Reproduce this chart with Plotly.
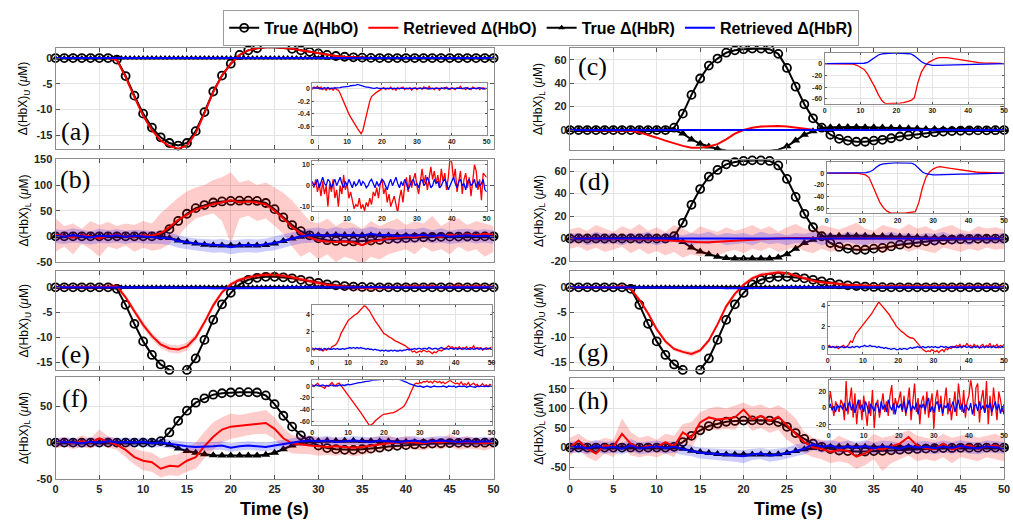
import plotly.graph_objects as go

W, H = 1013, 523
SANS = "Liberation Sans, Arial, sans-serif"
SERIF = "Liberation Serif, Times New Roman, serif"

STEP_1S = 1.0
STEP_HALF = 0.5

LEGEND_NAMES = ["True Δ(HbO)", "Retrieved Δ(HbO)", "True Δ(HbR)", "Retrieved Δ(HbR)"]
MAIN_XTICKS = [0, 5, 10, 15, 20, 25, 30, 35, 40, 45, 50]
INSET_XTICKS = [0, 10, 20, 30, 40, 50]

# ---------------- true curves ----------------
TRUE_HBO_U = [0, 0, 0, 0, 0, 0, 0, -0.3, -3.5, -7.3,
              -10.8, -13.5, -15.4, -16.5, -17.0, -16.5, -14.2, -10.5, -6.5, -3.4,
              -1.1, 0.6, 1.5, 1.9, 2.1, 2.1, 2.0, 1.8, 1.5, 1.2,
              0.9, 0.6, 0.4, 0.25, 0.15, 0.08, 0.03, 0, 0, 0,
              0, 0, 0, 0, 0, 0, 0, 0, 0, 0,
              0]
TRUE_HBR_U = [0, 0, 0, 0, 0, 0, 0, 0, 0, 0,
              0, 0, 0, 0, 0, 0, 0, 0, 0, 0,
              0, 0, 0, 0, 0, 0, 0, 0, 0, 0,
              0, 0, 0, 0, 0, 0, 0, 0, 0, 0,
              0, 0, 0, 0, 0, 0, 0, 0, 0, 0,
              0, 0, 0, 0, 0, 0, 0, 0, 0, 0,
              0, 0, 0, 0, 0, 0, 0, 0, 0, 0,
              0, 0, 0, 0, 0, 0, 0, 0, 0, 0,
              0, 0, 0, 0, 0, 0, 0, 0, 0, 0,
              0, 0, 0, 0, 0, 0, 0, 0, 0, 0,
              0]
TRUE_HBO_L = [0, 0, 0, 0, 0, 0, 0, 0, 0, 0,
              0, 0, 2, 14, 30, 44, 55, 61, 66, 68,
              69, 69.5, 69.5, 69, 65, 53, 37, 22, 10, 2,
              -4, -7.5, -9, -10, -10, -9, -8.3, -7, -5.5, -4.5,
              -3.5, -2.5, -1.8, -1.3, -0.9, -0.6, -0.4, -0.3, -0.2, -0.1,
              0]
TRUE_HBR_L = [0, 0, 0, 0, 0, 0, 0, 0, 0, 0,
              0, 0, 0, -3, -8, -11.6, -14, -16.2, -17.4, -17.7,
              -17.7, -17.7, -17.7, -17.7, -16.8, -13.9, -9, -4, -1, 1.5,
              2.3, 2.5, 2.5, 2.5, 2.4, 2.3, 2.2, 2.0, 1.8, 1.6,
              1.3, 1.0, 0.8, 0.6, 0.4, 0.3, 0.2, 0.1, 0.05, 0,
              0]

# ---------------- panel (a) ----------------
RET_HBO_A = [0, 0, 0, 0, 0, 0, 0, -0.4, -3.7, -7.6,
             -11.2, -14.0, -16.0, -17.1, -17.6, -17.0, -14.6, -10.7, -6.6, -3.4,
             -1.1, 0.6, 1.5, 1.9, 2.1, 2.1, 2.0, 1.8, 1.5, 1.2,
             0.9, 0.6, 0.4, 0.25, 0.15, 0.08, 0.03, 0, 0, 0,
             0, 0, 0, 0, 0, 0, 0, 0, 0, 0,
             0]
RET_HBR_A = [0, 0, 0, 0, 0, 0, 0, 0, 0, 0,
             0, 0, 0, 0, 0.05, 0.05, 0, 0, 0, 0,
             0, 0, 0, 0, 0, 0, 0, 0, 0, 0,
             0, 0, 0, 0, 0, 0, 0, 0, 0, 0,
             0, 0, 0, 0, 0, 0, 0, 0, 0, 0,
             0]
INSET_A_RED = [-0.02, 0.02, 0.0, 0.03, -0.01, 0.02, -0.02, 0.0, -0.03, 0.01,
               -0.02, 0.0, -0.03, 0.01, -0.02, -0.03, -0.08, -0.15, -0.22, -0.28,
               -0.34, -0.40, -0.45, -0.50, -0.55, -0.59, -0.63, -0.67, -0.71, -0.66,
               -0.55, -0.42, -0.30, -0.20, -0.13, -0.10, -0.08, -0.06, -0.04, -0.02,
               0.0, 0.01, -0.02, 0.0, -0.01, 0.02, -0.02, 0.0, -0.03, 0.01,
               -0.01, 0.0, 0.02, -0.02, 0.0, -0.01, 0.01, -0.03, 0.0, 0.01,
               -0.02, 0.0, 0.01, -0.02, 0.02, 0.0, -0.01, 0.03, -0.01, 0.0,
               -0.02, 0.01, 0.0, -0.03, 0.01, 0.0, -0.01, 0.02, 0.0, -0.02,
               0.01, 0.0, -0.02, 0.01, 0.0, 0.03, -0.01, 0.0, -0.02, 0.01,
               0.0, -0.02, 0.02, 0.0, -0.01, 0.01, -0.02, 0.0, 0.01, -0.01,
               0.0]
INSET_A_BLUE = [0.01, 0.0, 0.01, 0.0, 0.01, -0.01, 0.0, 0.01, 0.0, 0.01,
                0.0, 0.0, 0.01, 0.0, 0.01, 0.0, 0.01, 0.02, 0.02, 0.03,
                0.03, 0.03, 0.04, 0.04, 0.05, 0.05, 0.06, 0.05, 0.05, 0.04,
                0.03, 0.02, 0.02, 0.01, 0.01, 0.0, 0.0, 0.01, 0.0, 0.0,
                -0.01, 0.0, -0.01, 0.0, 0.0, -0.01, 0.0, -0.01, 0.0, 0.0,
                0.0, -0.01, 0.0, 0.0, -0.01, 0.0, 0.0, -0.01, 0.0, 0.0,
                -0.01, 0.0, 0.0, -0.01, 0.0, 0.01, 0.0, -0.01, 0.0, 0.0,
                0.0, -0.01, 0.0, 0.0, -0.01, 0.0, 0.01, 0.0, -0.01, 0.0,
                0.0, 0.0, -0.01, 0.0, 0.0, -0.01, 0.0, 0.0, 0.01, 0.0,
                -0.01, 0.0, 0.0, -0.01, 0.0, 0.0, 0.01, 0.0, -0.01, 0.0,
                0.0]

# ---------------- panel (b) ----------------
RET_HBO_B = [3, 0, -2, 2, 0, -4, 1, 3, 0, -1,
             2, 1, 6, 18, 32, 42, 52, 58, 63, 66,
             71, 66, 68, 66, 62, 50, 35, 18, 5, -2,
             -8, -10, -11, -10, -12, -17, -10, -8, -4, -3,
             0, -2, 2, 0, -1, 3, 1, 4, 2, 5,
             3]
BAND_HBO_B_UP = [35, 20, 25, 15, 30, 22, 28, 20, 25, 22,
                 30, 25, 45, 60, 75, 88, 95, 100, 110, 115,
                 125, 105, 110, 100, 105, 95, 85, 70, 50, 30,
                 25, 35, 20, 30, 25, 15, 30, 20, 28, 35,
                 22, 30, 25, 40, 20, 30, 35, 22, 30, 25,
                 20]
BAND_HBO_B_LO = [-30, -20, -35, -15, -25, -40, -20, -25, -18, -30,
                 -22, -28, -25, -15, 0, 20, 35, 40, 45, 30,
                 -15, 35, 40, 30, 35, 20, 5, -20, -40, -30,
                 -45, -35, -50, -40, -45, -55, -40, -45, -35, -30,
                 -25, -35, -20, -30, -25, -35, -20, -30, -25, -40,
                 -30]
RET_HBR_B = [1, -1, 2, 0, -2, 1, 0, 2, -1, 1,
             0, -1, -2, -4, -9, -12, -14, -15, -17, -17,
             -21, -18, -17, -18, -16, -13, -9, -4, 0, 2,
             3, 1, 4, 2, 3, 1, 5, 2, 3, 0,
             2, 1, 3, 0, 2, -1, 1, 2, 0, 1,
             -1]
BAND_HBR_B_UP = [14, 12, 16, 13, 10, 15, 12, 14, 11, 13,
                 12, 10, 10, 8, 2, -2, -4, -5, -6, -5,
                 -8, -6, -5, -6, -4, 0, 4, 9, 13, 16,
                 17, 14, 18, 15, 17, 14, 19, 15, 16, 13,
                 15, 14, 17, 12, 16, 11, 14, 15, 12, 14,
                 12]
BAND_HBR_B_LO = [-13, -15, -12, -14, -16, -13, -14, -12, -15, -12,
                 -14, -15, -15, -17, -22, -25, -28, -30, -32, -31,
                 -35, -32, -31, -32, -29, -27, -22, -18, -14, -12,
                 -11, -13, -10, -12, -11, -13, -9, -12, -11, -14,
                 -12, -13, -10, -14, -12, -15, -13, -11, -14, -12,
                 -15]
INSET_B_RED = [2, -1, 3, -3, 1, -5, 2, -4, 0, -10,
               1, -3, 3, -6, -2, -10, 0, -4, 5, -2,
               1, -6, -3, -8, -11, -9, -10, -6, -11, -9,
               -12, -8, -10, -6, -9, -3, -5, -1, -6, 1,
               3, -4, -1, -8, -4, -10, -7, -5, -9, -13,
               -6, -2, -8, 0, 4, -3, 5, -1, 3, 6,
               0, -4, 2, 8, 1, 5, -2, 4, 9, 3,
               7, 1, 5, -1, 8, 2, 6, -2, 4, 13,
               11, 3, 8, -3, 2, 7, -4, 3, 6, -1,
               4, -5, 2, 10, 7, -2, 3, -7, 6, 5,
               4]
INSET_B_BLUE = [2, 0, 1, 3, -1, 2, 4, 1, 0, 3,
                2, -1, 1, 3, 0, 2, 4, 1, -1, 2,
                0, 3, 1, -1, 2, 0, 1, 3, 0, 2,
                1, -1, 0, 2, 3, 1, -1, 2, 0, 1,
                3, 2, 0, -2, 1, 3, 0, 2, 4, 1,
                -1, 2, 0, 3, 1, -2, 0, 2, 3, 0,
                1, -1, 2, 3, 0, 1, 4, 2, -1, 0,
                3, 1, 2, -1, 0, 2, 3, 1, -2, 0,
                2, 4, 1, -1, 2, 3, 0, 1, -2, 2,
                3, 0, 1, 3, -1, 2, 0, 1, 3, -2,
                -3]

# ---------------- panel (c) ----------------
RET_HBO_C = [0, 0, 0, 0, 0, 0, 0, -0.5, -2, -4,
             -6.5, -9, -11.5, -13.5, -15, -15, -14, -12, -8, -3,
             0, 2, 3, 3.5, 3.5, 3, 2, 1, 0.3, 0,
             0, 0, 0, 0, 0, 0, 0, 0, 0, 0,
             0, 0, 0, 0, 0, 0, 0, 0, 0, 0,
             0]
RET_HBR_C = [0, 0, 0, 0, 0, 0, 0, 0, 0, 0,
             0, 0, 0, 0, 0, 0, 0, 0, 0, 0,
             0, 0, 0, 0, 0, 0, 0, 0, 0, 0,
             0, 0, 0, 0, 0, 0, 0, 0, 0, 0,
             0, 0, 0, 0, 0, 0, 0, 0, 0, 0,
             0]
INSET_C_RED = [0, 0, 0, 0, 0, 0, 0, 0, -1, -3,
               -6, -10, -18, -28, -40, -53, -63, -68, -68, -68,
               -68, -67, -66, -65, -63, -58, -32, -14, -4, 2,
               6, 8.5, 10, 10.5, 10, 9, 8, 6.5, 5.5, 4.5,
               3.5, 2.5, 2, 1.5, 1, 0.6, 0.4, 0.3, 0.2, 0.1,
               0]
INSET_C_BLUE = [0, 0, 0, 0, 0, 0, 0, 0, 0, 0,
                0, 0.5, 2, 6, 11, 14.5, 16.5, 17.2, 17.5, 17.7,
                17.7, 17.7, 17.7, 17.5, 16.5, 13, 8, 3, 0, -2,
                -3, -3.2, -3, -2.8, -2.6, -2.4, -2.2, -2, -1.8, -1.6,
                -1.4, -1.2, -1, -0.8, -0.6, -0.5, -0.4, -0.3, -0.2, -0.1,
                0]

# ---------------- panel (d) ----------------
RET_HBO_D = [0, 0, 0, 0, 0, 0, 0, 0, -0.3, -0.6,
             -1, -1.5, -2, -2.5, -3, -3.3, -3.3, -3, -2.5, -2,
             -1.5, -1, -0.5, 0, 0.3, 0.5, 0.5, 0.3, 0, 0,
             0, 0, 0, 0, 0, 0, 0, 0, 0, 0,
             0, 0, 0, 0, 0, 0, 0, 0, 0, 0,
             0]
BAND_HBO_D_UP = [8, 10, 7, 12, 9, 6, 11, 8, 13, 7,
                 10, 6, 12, 9, 5, 11, 8, 6, 10, 7,
                 9, 12, 8, 11, 6, 10, 13, 9, 7, 12,
                 10, 8, 11, 14, 9, 7, 12, 10, 8, 13,
                 9, 11, 7, 10, 12, 8, 6, 11, 9, 10,
                 8]
BAND_HBO_D_LO = [-9, -7, -11, -8, -12, -10, -7, -13, -9, -14,
                 -11, -15, -12, -17, -14, -16, -13, -15, -12, -10,
                 -13, -9, -11, -8, -12, -10, -7, -11, -13, -9,
                 -12, -10, -8, -12, -11, -9, -13, -10, -8, -12,
                 -9, -11, -13, -8, -10, -12, -9, -11, -8, -10,
                 -9]
RET_HBR_D = [0, 0, 0, 0, 0, 0, 0, 0, 0, 0,
             0, 0, 0, 0, 0, 0, 0, 0, 0, 0,
             0, 0, 0, 0, 0, 0, 0, 0, 0, 0,
             0, 0, 0, 0, 0, 0, 0, 0, 0, 0,
             0, 0, 0, 0, 0, 0, 0, 0, 0, 0,
             0]
BAND_HBR_D_UP = [4, 5, 3, 6, 4, 5, 3, 5, 4, 6,
                 3, 5, 4, 3, 5, 4, 6, 3, 5, 4,
                 5, 3, 6, 4, 5, 3, 5, 4, 6, 4,
                 5, 3, 6, 4, 5, 3, 4, 6, 4, 5,
                 3, 5, 4, 6, 3, 5, 4, 5, 3, 4,
                 5]
BAND_HBR_D_LO = [-5, -3, -6, -4, -5, -4, -6, -3, -5, -4,
                 -6, -4, -3, -5, -6, -4, -5, -3, -6, -5,
                 -4, -6, -3, -5, -4, -6, -4, -5, -3, -6,
                 -4, -5, -3, -5, -6, -4, -5, -3, -6, -4,
                 -5, -4, -6, -3, -5, -4, -6, -3, -5, -4,
                 -5]
INSET_D_RED = [0, 0, 0, 0, 0, 0, 0, 0, 0, -0.5,
               -1.5, -3, -8, -22, -38, -50, -59, -65, -68, -68.5,
               -68.5, -68.5, -68.5, -68, -67.5, -66, -50, -25, -7, 2,
               7, 10, 11, 10.5, 9, 8, 7, 6, 5, 4,
               3, 2.5, 2, 1.5, 1.2, 1, 0.7, 0.5, 0.3, 0.1,
               0]
INSET_D_BLUE = [0, 0, 0, 0, 0, 0, 0, 0, 0, 0,
                0.5, 1, 2, 5, 10, 14, 16, 17, 17.5, 17.7,
                17.7, 17.7, 17.7, 17.5, 17, 14, 8, 2, -1, -2.5,
                -3, -3, -3, -2.8, -2.6, -2.4, -2.2, -2, -1.8, -1.6,
                -1.4, -1.2, -1, -0.8, -0.6, -0.5, -0.4, -0.3, -0.2, -0.1,
                0]

# ---------------- panel (e) ----------------
RET_HBO_E = [0, 0, 0, 0, 0, 0, 0.1, 0.2, -2.0, -4.8,
             -7.5, -9.7, -11.4, -12.2, -12.4, -11.8, -10.0, -7.0, -3.6, -1.0,
             0.6, 1.5, 2.0, 2.3, 2.5, 2.5, 2.3, 2.0, 1.6, 1.2,
             0.8, 0.5, 0.3, 0.1, 0.0, -0.1, -0.2, -0.1, 0.0, 0.1,
             0.1, 0.2, 0.1, 0.2, 0.0, 0.1, 0.2, 0.1, 0.2, 0.1,
             0.1]
BAND_HBO_E_UP = [0.4, 0.5, 0.4, 0.6, 0.5, 0.4, 0.8, 0.7, -1.5, -4.2,
                 -6.8, -9.0, -10.7, -11.4, -11.6, -11.0, -9.3, -6.4, -3.0, -0.5,
                 1.1, 1.9, 2.4, 2.8, 3.0, 3.0, 2.8, 2.5, 2.2, 1.8,
                 1.4, 1.0, 0.8, 0.6, 0.5, 0.4, 0.3, 0.5, 0.6, 0.6,
                 0.5, 0.6, 0.5, 0.7, 0.4, 0.5, 0.9, 0.5, 0.6, 0.5,
                 0.5]
BAND_HBO_E_LO = [-0.4, -0.5, -0.4, -0.5, -0.6, -0.4, -0.5, -0.3, -2.5, -5.4,
                 -8.2, -10.4, -12.1, -13.0, -13.2, -12.6, -10.7, -7.6, -4.2, -1.5,
                 0.1, 1.0, 1.5, 1.8, 2.0, 1.9, 1.8, 1.5, 1.0, 0.6,
                 0.2, -0.1, -0.3, -0.5, -0.7, -0.8, -0.8, -0.6, -0.4, -0.4,
                 -0.3, -0.2, -0.4, -0.3, -0.5, -0.3, -0.2, -0.4, -0.3, -0.3,
                 -0.4]
RET_HBR_E = [0, 0, 0, 0, 0, 0, 0, 0, 0, 0,
             0, 0, 0, 0, -0.1, -0.1, -0.1, -0.1, -0.2, -0.2,
             -0.2, -0.2, -0.2, -0.2, -0.2, -0.1, -0.1, 0, 0, 0,
             0, 0, 0, 0, 0, 0, 0, 0, 0, 0,
             0, 0, 0, 0, 0, 0, 0, 0, 0, 0,
             0]
BAND_HBR_E_UP = [0.3, 0.3, 0.3, 0.3, 0.3, 0.3, 0.3, 0.3, 0.3, 0.3,
                 0.3, 0.3, 0.3, 0.3, 0.2, 0.2, 0.2, 0.2, 0.1, 0.1,
                 0.1, 0.1, 0.1, 0.1, 0.1, 0.2, 0.2, 0.3, 0.3, 0.3,
                 0.3, 0.3, 0.3, 0.3, 0.3, 0.3, 0.3, 0.3, 0.3, 0.3,
                 0.3, 0.3, 0.3, 0.3, 0.3, 0.3, 0.3, 0.3, 0.3, 0.3,
                 0.3]
BAND_HBR_E_LO = [-0.3, -0.3, -0.3, -0.3, -0.3, -0.3, -0.3, -0.3, -0.3, -0.3,
                 -0.3, -0.3, -0.3, -0.3, -0.4, -0.4, -0.4, -0.4, -0.5, -0.5,
                 -0.5, -0.5, -0.5, -0.5, -0.5, -0.4, -0.4, -0.3, -0.3, -0.3,
                 -0.3, -0.3, -0.3, -0.3, -0.3, -0.3, -0.3, -0.3, -0.3, -0.3,
                 -0.3, -0.3, -0.3, -0.3, -0.3, -0.3, -0.3, -0.3, -0.3, -0.3,
                 -0.3]
INSET_E_RED = [0.2, -0.1, 0.1, 0.0, -0.1, 0.1, -0.2, 0.0, -0.1, 0.1,
               0.0, 0.3, 0.4, 0.5, 0.8, 1.2, 1.8, 2.2, 2.6, 3.0,
               3.3, 3.5, 3.7, 3.9, 4.0, 4.1, 4.3, 4.5, 4.8, 5.0,
               4.9, 4.7, 4.4, 4.0, 3.6, 3.3, 3.0, 2.7, 2.4, 2.0,
               1.8, 1.7, 1.5, 1.4, 1.3, 1.1, 1.0, 0.9, 0.8, 0.7,
               0.6, 0.5, 0.4, 0.2, 0.1, -0.1, -0.3, -0.2, -0.4, -0.3,
               -0.2, -0.3, -0.1, -0.2, -0.3, -0.2, -0.4, -0.5, -0.3, -0.4,
               -0.2, -0.1, -0.2, 0.0, 0.1, 0.2, 0.4, 0.2, 0.3, 0.1,
               0.2, 0.1, 0.3, 0.0, 0.2, 0.1, 0.3, 0.0, 0.2, 0.1,
               0.4, 0.0, 0.2, 0.1, 0.2, -0.1, 0.1, 0.2, 0.0, 0.1,
               0.3]
INSET_E_BLUE = [0.1, 0.0, 0.1, 0.0, 0.1, -0.1, 0.0, 0.1, 0.0, 0.1,
                0.0, 0.0, 0.1, 0.0, 0.1, 0.0, 0.0, 0.1, 0.0, 0.1,
                0.1, 0.2, 0.1, 0.2, 0.1, 0.2, 0.1, 0.2, 0.1, 0.1,
                0.0, 0.1, 0.0, 0.0, -0.1, 0.0, -0.1, -0.1, -0.2, -0.1,
                -0.2, -0.1, -0.2, -0.2, -0.1, -0.2, -0.1, -0.2, -0.2, -0.1,
                -0.2, -0.1, -0.1, 0.0, -0.1, 0.0, 0.0, 0.1, 0.0, 0.1,
                0.1, 0.0, 0.1, 0.1, 0.0, 0.2, 0.1, 0.0, 0.1, 0.1,
                0.0, 0.1, 0.2, 0.1, 0.0, 0.1, 0.0, 0.1, 0.1, 0.0,
                0.1, 0.0, 0.1, 0.1, 0.0, 0.1, 0.0, 0.1, 0.0, 0.1,
                0.0, 0.1, 0.1, 0.0, 0.1, 0.0, 0.1, 0.0, 0.1, 0.1,
                0.0]

# ---------------- panel (f) ----------------
RET_HBO_F = [0, 1, -1, 2, 0, 6, 1, -3, -10, -20,
             -25, -27, -36, -32, -33, -25, -20, -5, 8, 18,
             22, 23, 24, 26, 27, 19, 6, -1, -3, -4,
             -5, -6, -5, -6, -7, -6, -4, -2, -1, 0,
             1, 0, -1, 1, 0, 2, 0, 1, 0, -1,
             0]
BAND_HBO_F_UP = [5, 8, 4, 10, 6, 18, 9, 5, 0, -8,
                 -12, -14, -22, -18, -16, -8, 0, 15, 28, 35,
                 40, 38, 40, 42, 45, 35, 20, 10, 8, 10,
                 6, 8, 5, 6, 4, 5, 7, 8, 10, 6,
                 9, 7, 5, 8, 6, 12, 7, 9, 6, 5,
                 8]
BAND_HBO_F_LO = [-8, -5, -9, -6, -8, -4, -7, -10, -20, -30,
                 -38, -40, -48, -45, -46, -40, -36, -22, -10, 0,
                 5, 8, 10, 12, 12, 5, -8, -15, -15, -16,
                 -18, -17, -18, -16, -19, -17, -15, -12, -10, -9,
                 -8, -10, -11, -7, -9, -6, -10, -8, -9, -11,
                 -7]
RET_HBR_F = [0, 1, 0, -1, 1, 0, 2, 0, 1, 0,
             1, -1, 0, -2, -4, -5, -6, -6, -5, -4,
             -7, -5, -4, -5, -6, -4, -2, 1, 2, 3,
             2, 3, 1, 2, 3, 2, 1, 3, 2, 1,
             2, 3, 1, 2, 3, 2, 1, 2, 1, 2,
             1]
BAND_HBR_F_UP = [6, 7, 6, 5, 7, 6, 8, 6, 7, 6,
                 7, 5, 6, 4, 2, 1, 0, 0, 1, 2,
                 -1, 1, 2, 1, 0, 2, 4, 7, 8, 9,
                 8, 9, 7, 8, 9, 8, 7, 9, 8, 7,
                 8, 9, 7, 8, 9, 8, 7, 8, 7, 8,
                 7]
BAND_HBR_F_LO = [-6, -5, -6, -7, -5, -6, -4, -6, -5, -6,
                 -5, -7, -6, -8, -10, -11, -12, -12, -11, -10,
                 -13, -11, -10, -11, -12, -10, -8, -5, -4, -3,
                 -4, -3, -5, -4, -3, -4, -5, -3, -4, -5,
                 -4, -3, -5, -4, -3, -4, -5, -4, -5, -4,
                 -5]
INSET_F_RED = [3, -1, 2, 5, 1, 0, -2, -4, 1, 0,
               3, 6, 2, 0, 4, 5, 1, -3, -8, -12,
               -16, -21, -25, -29, -33, -37, -41, -45, -50, -54,
               -59, -64, -68, -66, -64, -60, -57, -54, -52, -50,
               -48, -48, -47, -47, -46, -46, -45, -43, -41, -39,
               -37, -35, -30, -25, -18, -10, -3, 3, 5, 4,
               6, 5, 8, 7, 9, 6, 8, 5, 9, 7,
               6, 8, 5, 7, 4, 6, 8, 10, 7, 6,
               4, 5, 3, 7, 2, 4, 2, 6, 1, 3,
               5, 1, 3, -1, 2, 4, 0, 2, -1, 3,
               1]
INSET_F_BLUE = [1, 0, 2, 1, 0, 1, 2, 0, 1, 0,
                1, 2, 0, 1, 0, 2, 1, 2, 1, 2,
                3, 2, 3, 4, 4, 5, 6, 6, 7, 7,
                8, 8, 9, 9, 10, 10, 10, 11, 11, 12,
                12, 11, 12, 13, 12, 11, 12, 13, 12, 11,
                10, 9, 8, 6, 4, 3, 2, 1, 0, -1,
                0, -1, -2, -1, 0, -1, -2, -1, 0, -1,
                -1, -2, -1, 0, -1, -2, 0, -1, -1, 0,
                -2, -1, 0, -1, -1, 0, -2, -1, 0, -1,
                -1, -2, 0, -1, 0, -1, -1, 0, -1, 0,
                -1]

# ---------------- panel (g) ----------------
RET_HBO_G = [0, 0, 0, 0, 0, 0, 0.2, -0.3, -2.5, -5.2,
             -8.4, -10.8, -12.3, -12.9, -13.3, -12.6, -10.6, -7.4, -3.8, -1.3,
             0.5, 1.8, 2.5, 2.8, 3.0, 2.8, 2.3, 1.8, 1.3, 1.0,
             0.8, 0.6, 0.5, 0.4, 0.3, 0.3, 0.2, 0.2, 0.2, 0.2,
             0.2, 0.1, 0.2, 0.1, 0.1, 0.2, 0.1, 0.1, 0.2, 0.1,
             0.1]
BAND_HBO_G_UP = [0.3, 0.3, 0.3, 0.3, 0.3, 0.3, 0.6, 0.1, -2.1, -4.8,
                 -8.0, -10.4, -11.9, -12.5, -12.8, -12.2, -10.2, -7.0, -3.4, -0.9,
                 0.9, 2.2, 2.9, 3.2, 3.5, 3.2, 2.7, 2.2, 1.7, 1.4,
                 1.2, 1.0, 0.9, 0.8, 0.7, 0.7, 0.6, 0.6, 0.6, 0.6,
                 0.6, 0.5, 0.6, 0.5, 0.5, 0.6, 0.5, 0.5, 0.6, 0.5,
                 0.5]
BAND_HBO_G_LO = [-0.3, -0.3, -0.3, -0.3, -0.3, -0.3, -0.2, -0.7, -2.9, -5.6,
                 -8.8, -11.2, -12.7, -13.3, -13.8, -13.0, -11.0, -7.8, -4.2, -1.7,
                 0.1, 1.4, 2.1, 2.4, 2.5, 2.4, 1.9, 1.4, 0.9, 0.6,
                 0.4, 0.2, 0.1, 0.0, -0.1, -0.1, -0.2, -0.2, -0.2, -0.2,
                 -0.2, -0.3, -0.2, -0.3, -0.3, -0.2, -0.3, -0.3, -0.2, -0.3,
                 -0.3]
RET_HBR_G = [0, 0, 0, 0, 0, 0, 0, 0, 0, 0,
             0, 0, 0, 0, 0, -0.1, -0.1, -0.1, -0.2, -0.2,
             -0.2, -0.1, -0.2, -0.1, -0.1, 0, 0, 0, 0, 0,
             0, 0, 0, 0, 0, 0, 0, 0, 0, 0,
             0, 0, 0, 0, 0, 0, 0, 0, 0, 0,
             0]
BAND_HBR_G_UP = [0.2, 0.2, 0.2, 0.2, 0.2, 0.2, 0.2, 0.2, 0.2, 0.2,
                 0.2, 0.2, 0.2, 0.2, 0.2, 0.1, 0.1, 0.1, 0.0, 0.0,
                 0.0, 0.1, 0.0, 0.1, 0.1, 0.2, 0.2, 0.2, 0.2, 0.2,
                 0.2, 0.2, 0.2, 0.2, 0.2, 0.2, 0.2, 0.2, 0.2, 0.2,
                 0.2, 0.2, 0.2, 0.2, 0.2, 0.2, 0.2, 0.2, 0.2, 0.2,
                 0.2]
BAND_HBR_G_LO = [-0.2, -0.2, -0.2, -0.2, -0.2, -0.2, -0.2, -0.2, -0.2, -0.2,
                 -0.2, -0.2, -0.2, -0.2, -0.2, -0.3, -0.3, -0.3, -0.4, -0.4,
                 -0.4, -0.3, -0.4, -0.3, -0.3, -0.2, -0.2, -0.2, -0.2, -0.2,
                 -0.2, -0.2, -0.2, -0.2, -0.2, -0.2, -0.2, -0.2, -0.2, -0.2,
                 -0.2, -0.2, -0.2, -0.2, -0.2, -0.2, -0.2, -0.2, -0.2, -0.2,
                 -0.2]
INSET_G_RED = [0.1, 0.2, 0.0, 0.1, 0.0, 0.1, -0.1, 0.0, 0.1, 0.2,
               0.0, 0.1, 0.3, 0.6, 0.5, 0.9, 1.3, 1.5, 1.7, 2.0,
               2.2, 2.3, 2.5, 2.7, 2.9, 3.2, 3.5, 3.8, 4.1, 4.3,
               4.1, 3.9, 3.7, 3.6, 3.4, 3.1, 2.8, 2.6, 2.3, 2.0,
               1.8, 1.6, 1.5, 1.4, 1.2, 1.1, 1.0, 0.9, 0.9, 0.8,
               0.6, 0.4, 0.1, 0.0, -0.2, -0.3, -0.4, -0.3, -0.4, -0.2,
               -0.3, -0.4, -0.3, -0.5, -0.3, -0.2, -0.4, -0.1, -0.2, 0.0,
               -0.1, 0.1, 0.0, 0.2, 0.1, 0.3, 0.0, 0.2, 0.1, 0.4,
               0.1, 0.2, 0.0, 0.3, 0.1, 0.2, -0.1, 0.2, 0.3, 0.0,
               0.2, 0.1, 0.4, 0.0, 0.2, 0.1, 0.3, 0.0, 0.2, 0.1,
               0.3]
INSET_G_BLUE = [0.0, 0.1, 0.0, 0.1, 0.0, 0.0, 0.1, 0.0, 0.1, 0.0,
                0.0, 0.1, 0.0, 0.0, 0.1, 0.0, 0.1, 0.1, 0.0, 0.1,
                0.1, 0.2, 0.1, 0.1, 0.2, 0.1, 0.1, 0.1, 0.0, 0.1,
                0.0, 0.0, -0.1, 0.0, -0.1, -0.1, -0.2, -0.1, -0.1, -0.2,
                -0.2, -0.1, -0.2, -0.1, -0.1, -0.2, -0.1, 0.0, -0.1, 0.0,
                0.0, 0.1, 0.0, 0.0, 0.1, 0.0, 0.0, 0.1, 0.0, 0.1,
                0.0, 0.1, 0.0, 0.0, 0.1, 0.1, 0.0, 0.1, 0.0, 0.0,
                0.1, 0.0, 0.1, 0.0, 0.0, 0.1, 0.0, 0.1, 0.1, 0.0,
                0.1, 0.0, 0.0, 0.1, 0.0, 0.1, 0.0, 0.0, 0.1, 0.0,
                0.1, 0.0, 0.1, 0.0, 0.1, 0.0, 0.0, 0.1, 0.0, 0.1,
                0.0]

# ---------------- panel (h) ----------------
RET_HBO_H = [0, 18, -3, -15, 6, 2, 35, 10, -2, 4,
             1, 14, 3, 39, 25, 64, 77, 72, 74, 77,
             97, 72, 81, 68, 79, 56, 35, 14, 0, -3,
             -11, -6, -8, -23, -15, -2, -5, 3, 10, 27,
             5, -2, -4, 10, -5, 2, 6, -3, 3, 5,
             -2]
BAND_HBO_H_UP = [25, 35, 20, 15, 25, 20, 75, 40, 25, 30,
                 20, 35, 30, 60, 65, 90, 100, 105, 100, 108,
                 115, 105, 110, 100, 108, 95, 75, 40, 25, 20,
                 15, 30, 20, 10, 15, 35, 25, 30, 35, 45,
                 30, 25, 20, 35, 25, 30, 35, 25, 30, 35,
                 25]
BAND_HBO_H_LO = [-20, -5, -25, -35, -15, -25, 0, -20, -25, -20,
                 -25, -15, -25, 10, 0, 35, 45, 45, 48, 45,
                 70, 42, 50, 38, 45, 20, 5, -15, -25, -30,
                 -40, -35, -40, -55, -45, -30, -60, -40, -30, -20,
                 -35, -30, -35, -25, -40, -25, -30, -35, -25, -30,
                 -35]
RET_HBR_H = [0, 3, -2, 4, -1, 2, -3, 5, -2, 1,
             3, -1, 2, -4, -8, -13, -15, -16, -18, -20,
             -22, -17, -15, -20, -18, -14, -8, -3, 8, 2,
             5, -1, 3, 0, 4, -2, 3, 1, -3, 4,
             0, 2, -2, 3, -1, 4, 0, -2, 3, 1,
             -1]
BAND_HBR_H_UP = [15, 18, 12, 20, 14, 17, 11, 22, 13, 16,
                 18, 14, 17, 10, 5, 0, -2, -3, -4, -6,
                 -6, -3, -1, -5, -3, 0, 8, 12, 22, 17,
                 20, 14, 18, 15, 19, 13, 18, 16, 12, 19,
                 15, 17, 13, 18, 14, 19, 15, 13, 18, 16,
                 14]
BAND_HBR_H_LO = [-15, -12, -17, -11, -16, -13, -18, -10, -17, -14,
                 -12, -16, -13, -19, -22, -28, -30, -32, -34, -36,
                 -40, -32, -30, -36, -33, -28, -22, -18, -7, -13,
                 -10, -16, -12, -15, -11, -17, -12, -14, -18, -11,
                 -15, -13, -17, -12, -16, -11, -15, -17, -12, -14,
                 -16]
INSET_H_RED = [2, 20, 5, -10, 8, 0, -5, 10, 5, -15,
               33, -8, 12, 25, -12, 18, -20, 5, 10, -15,
               15, -5, -22, 8, -10, 22, -25, 3, 10, -12,
               5, 18, -5, 8, -10, 15, 28, -8, 12, 2,
               10, 20, -5, 15, -10, 8, 25, -15, 10, 30,
               -5, 12, -20, 8, 15, -8, 20, -12, 5, 18,
               -25, 10, 22, -5, 15, -10, 8, 25, -8, 12,
               -15, 5, 20, -10, 30, 10, -5, 22, -12, 8,
               15, 35, 20, -10, 25, 30, -18, 10, 22, -5,
               33, -20, 15, -10, 25, 5, -15, 20, 10, -5,
               5]
INSET_H_BLUE = [0, 5, -3, 2, -5, 4, 0, 3, -2, 6,
                -4, 2, 8, -3, 5, -6, 3, 10, -2, 4,
                -5, 8, 2, -7, 5, 0, -4, 6, 3, -6,
                8, -2, 4, -5, 10, 2, -3, 6, -8, 4,
                0, 5, -3, 8, -6, 2, 10, -4, 3, -2,
                6, -8, 4, 0, 5, -3, 8, 12, -5, 2,
                -6, 4, 8, -2, 5, -7, 3, 0, 6, -4,
                2, 8, -5, 3, 10, -2, 5, -6, 4, 0,
                -3, 6, -8, 2, 5, -4, 8, -2, 3, -6,
                4, 0, 6, -5, 2, 8, -3, 5, -7, 2,
                -8]

# ---------------- layout description (pixels) ----------------
COL_X = {"L": (53, 495), "R": (572, 1010)}
PANELS = [
    dict(label="(a)", col="L", top=43, bot=146, yr=[-17.6, 1.95], yt=[-15, -10, -5, 0], sub="U",
         lab=(73, 128), hbo=TRUE_HBO_U, hbr=TRUE_HBR_U, hbr_step=STEP_HALF, tri=6,
         rhbo=RET_HBO_A, rhbr=RET_HBR_A, bo=None, br=None, xlab=False,
         ins=(312, 488, 79, 132), iyr=[-0.73, 0.08], iyt=[-0.6, -0.4, -0.2, 0],
         ired=INSET_A_RED, iblue=INSET_A_BLUE, istep=STEP_HALF),
    dict(label="(b)", col="L", top=157, bot=262, yr=[-50, 150], yt=[-50, 0, 50, 100, 150], sub="L",
         lab=(73, 178), hbo=TRUE_HBO_L, hbr=TRUE_HBR_L, hbr_step=STEP_1S, tri=8,
         rhbo=RET_HBO_B, rhbr=RET_HBR_B, bo=(BAND_HBO_B_UP, BAND_HBO_B_LO), br=(BAND_HBR_B_UP, BAND_HBR_B_LO), xlab=False,
         ins=(312, 488, 159, 210), iyr=[-12.2, 11.6], iyt=[-10, 0, 10],
         ired=INSET_B_RED, iblue=INSET_B_BLUE, istep=STEP_HALF),
    dict(label="(e)", col="L", top=271, bot=373, yr=[-16.6, 3.3], yt=[-15, -10, -5, 0], sub="U",
         lab=(73, 357), hbo=TRUE_HBO_U, hbr=TRUE_HBR_U, hbr_step=STEP_HALF, tri=6,
         rhbo=RET_HBO_E, rhbr=RET_HBR_E, bo=(BAND_HBO_E_UP, BAND_HBO_E_LO), br=(BAND_HBR_E_UP, BAND_HBR_E_LO), xlab=False,
         ins=(312, 493, 306, 358), iyr=[-0.75, 5.1], iyt=[0, 2, 4],
         ired=INSET_E_RED, iblue=INSET_E_BLUE, istep=STEP_HALF),
    dict(label="(f)", col="L", top=380, bot=484, yr=[-50, 90], yt=[-50, 0, 50], sub="L",
         lab=(73, 402), hbo=TRUE_HBO_L, hbr=TRUE_HBR_L, hbr_step=STEP_1S, tri=8,
         rhbo=RET_HBO_F, rhbr=RET_HBR_F, bo=(BAND_HBO_F_UP, BAND_HBO_F_LO), br=(BAND_HBR_F_UP, BAND_HBR_F_LO), xlab=True,
         ins=(312, 493, 383, 429), iyr=[-67, 10], iyt=[-60, -40, -20, 0],
         ired=INSET_F_RED, iblue=INSET_F_BLUE, istep=STEP_HALF),
    dict(label="(c)", col="R", top=43, bot=147, yr=[-16.7, 70], yt=[0, 20, 40, 60], sub="L",
         lab=(595, 62), hbo=TRUE_HBO_L, hbr=TRUE_HBR_L, hbr_step=STEP_1S, tri=8,
         rhbo=RET_HBO_C, rhbr=RET_HBR_C, bo=None, br=None, xlab=False,
         ins=(829, 1010, 48, 100), iyr=[-68, 18], iyt=[-60, -40, -20, 0],
         ired=INSET_C_RED, iblue=INSET_C_BLUE, istep=STEP_1S),
    dict(label="(d)", col="R", top=158, bot=261, yr=[-20, 69.5], yt=[-20, 0, 20, 40, 60], sub="L",
         lab=(596, 180), hbo=TRUE_HBO_L, hbr=TRUE_HBR_L, hbr_step=STEP_1S, tri=8,
         rhbo=RET_HBO_D, rhbr=RET_HBR_D, bo=(BAND_HBO_D_UP, BAND_HBO_D_LO), br=(BAND_HBR_D_UP, BAND_HBR_D_LO), xlab=False,
         ins=(831, 1010, 160, 212), iyr=[-68.4, 18.5], iyt=[-60, -40, -20, 0],
         ired=INSET_D_RED, iblue=INSET_D_BLUE, istep=STEP_1S),
    dict(label="(g)", col="R", top=271, bot=373, yr=[-16.6, 3.3], yt=[-15, -10, -5, 0], sub="U",
         lab=(595, 355), hbo=TRUE_HBO_U, hbr=TRUE_HBR_U, hbr_step=STEP_HALF, tri=6,
         rhbo=RET_HBO_G, rhbr=RET_HBR_G, bo=(BAND_HBO_G_UP, BAND_HBO_G_LO), br=(BAND_HBR_G_UP, BAND_HBR_G_LO), xlab=False,
         ins=(832, 1010, 303, 356), iyr=[-0.6, 4.3], iyt=[0, 2, 4],
         ired=INSET_G_RED, iblue=INSET_G_BLUE, istep=STEP_HALF),
    dict(label="(h)", col="R", top=381, bot=484, yr=[-80, 177], yt=[-50, 0, 50, 100, 150], sub="L",
         lab=(595, 404), hbo=TRUE_HBO_L, hbr=TRUE_HBR_L, hbr_step=STEP_1S, tri=8,
         rhbo=RET_HBO_H, rhbr=RET_HBR_H, bo=(BAND_HBO_H_UP, BAND_HBO_H_LO), br=(BAND_HBR_H_UP, BAND_HBR_H_LO), xlab=True,
         ins=(833, 1010, 383, 433), iyr=[-26, 34], iyt=[-20, 0, 20],
         ired=INSET_H_RED, iblue=INSET_H_BLUE, istep=STEP_HALF),
]

FRAME = "#8c8c8c"
GRID = "#e3e3e3"
TICKC = "#262626"


def tgrid(vals, step):
    return [round(i * step, 3) for i in range(len(vals))]


def xdom(l, r):
    return [max(0.0, l / W), min(1.0, r / W)]


def ydom(t, b):
    return [1 - b / H, 1 - t / H]


def fmt(v):
    return "%g" % v


fig = go.Figure()
layout = {}
annotations = []
n_main = len(PANELS)

for i, p in enumerate(PANELS):
    m = i + 1
    k = n_main + i + 1
    mx = "x" if m == 1 else "x%d" % m
    my = "y" if m == 1 else "y%d" % m
    kx, ky = "x%d" % k, "y%d" % k
    legend = (i == 0)

    # --- main panel traces ---
    t1 = tgrid(p["hbo"], STEP_1S)
    fig.add_trace(go.Scatter(
        x=t1, y=p["hbo"], mode="lines+markers", name="<b>" + LEGEND_NAMES[0] + "</b>",
        line=dict(color="black", width=2),
        marker=dict(symbol="circle-open", size=8, color="black", line=dict(width=1.8)),
        cliponaxis=False, showlegend=legend, legendrank=1, xaxis=mx, yaxis=my))
    th = tgrid(p["hbr"], p["hbr_step"])
    fig.add_trace(go.Scatter(
        x=th, y=p["hbr"], mode="lines+markers", name="<b>" + LEGEND_NAMES[2] + "</b>",
        line=dict(color="black", width=2),
        marker=dict(symbol="triangle-up", size=p["tri"], color="black"),
        cliponaxis=False, showlegend=legend, legendrank=3, xaxis=mx, yaxis=my))
    for band, col in ((p["bo"], "rgba(255,0,0,0.2)"), (p["br"], "rgba(0,0,255,0.2)")):
        if band is None:
            continue
        up, lo = band
        tb = tgrid(up, STEP_1S)
        fig.add_trace(go.Scatter(
            x=tb + tb[::-1], y=list(up) + list(lo)[::-1], mode="lines", fill="toself",
            fillcolor=col, line=dict(width=0), hoverinfo="skip", showlegend=False,
            xaxis=mx, yaxis=my))
    fig.add_trace(go.Scatter(
        x=tgrid(p["rhbo"], STEP_1S), y=p["rhbo"], mode="lines", name="<b>" + LEGEND_NAMES[1] + "</b>",
        line=dict(color="red", width=2), showlegend=legend, legendrank=2, xaxis=mx, yaxis=my))
    fig.add_trace(go.Scatter(
        x=tgrid(p["rhbr"], STEP_1S), y=p["rhbr"], mode="lines", name="<b>" + LEGEND_NAMES[3] + "</b>",
        line=dict(color="blue", width=2), showlegend=legend, legendrank=4, xaxis=mx, yaxis=my))

    cl, cr = COL_X[p["col"]]
    layout["xaxis" if m == 1 else "xaxis%d" % m] = dict(
        domain=xdom(cl, cr), anchor=my, range=[0, 50],
        tickvals=MAIN_XTICKS, ticktext=[fmt(v) for v in MAIN_XTICKS], showticklabels=p["xlab"],
        ticks="inside", ticklen=4, tickcolor="#555", showline=True, linecolor=FRAME, linewidth=1,
        mirror="ticks", showgrid=True, gridcolor=GRID, zeroline=False,
        tickfont=dict(family=SANS, size=11, color=TICKC, weight="bold"))
    layout["yaxis" if m == 1 else "yaxis%d" % m] = dict(
        domain=ydom(p["top"], p["bot"]), anchor=mx, range=p["yr"],
        tickvals=p["yt"], ticktext=[fmt(v) for v in p["yt"]],
        ticks="inside", ticklen=4, tickcolor="#555", showline=True, linecolor=FRAME, linewidth=1,
        mirror="ticks", showgrid=True, gridcolor=GRID, zeroline=False,
        tickfont=dict(family=SANS, size=11, color=TICKC, weight="bold"))

    # --- inset traces ---
    fig.add_trace(go.Scatter(
        x=tgrid(p["ired"], p["istep"]), y=p["ired"], mode="lines",
        line=dict(color="red", width=1.3), showlegend=False, xaxis=kx, yaxis=ky))
    fig.add_trace(go.Scatter(
        x=tgrid(p["iblue"], p["istep"]), y=p["iblue"], mode="lines",
        line=dict(color="blue", width=1.3), showlegend=False, xaxis=kx, yaxis=ky))
    il, ir, it, ib = p["ins"]
    layout["xaxis%d" % k] = dict(
        domain=xdom(il, ir), anchor=ky, range=[0, 50],
        tickvals=INSET_XTICKS, ticktext=[fmt(v) for v in INSET_XTICKS],
        ticks="inside", ticklen=2, tickcolor="#555", showline=True, linecolor=FRAME, linewidth=1,
        mirror="ticks", showgrid=True, gridcolor=GRID, zeroline=False,
        tickfont=dict(family=SANS, size=7, color=TICKC, weight="bold"))
    layout["yaxis%d" % k] = dict(
        domain=ydom(it, ib), anchor=kx, range=p["iyr"],
        tickvals=p["iyt"], ticktext=[fmt(v) for v in p["iyt"]],
        ticks="inside", ticklen=2, tickcolor="#555", showline=True, linecolor=FRAME, linewidth=1,
        mirror="ticks", showgrid=True, gridcolor=GRID, zeroline=False,
        tickfont=dict(family=SANS, size=7, color=TICKC, weight="bold"))

    # --- panel label & y title ---
    lx, ly = p["lab"]
    annotations.append(dict(
        text=p["label"], xref="paper", yref="paper", x=lx / W, y=1 - ly / H,
        xanchor="center", yanchor="middle", showarrow=False,
        font=dict(family=SERIF, size=26, color="black")))
    tx = 22 if p["col"] == "L" else 541
    annotations.append(dict(
        text="Δ(HbX)<sub>%s</sub> (<i>μ</i>M)" % p["sub"], xref="paper", yref="paper",
        x=tx / W, y=1 - (p["top"] + p["bot"]) / 2 / H, textangle=-90,
        xanchor="center", yanchor="middle", showarrow=False,
        font=dict(family=SANS, size=12, color="black")))

for cx in (274, 793):
    annotations.append(dict(
        text="<b>Time (s)</b>", xref="paper", yref="paper", x=cx / W, y=1 - 515 / H,
        xanchor="center", yanchor="middle", showarrow=False,
        font=dict(family=SANS, size=18, color="black")))

fig.update_layout(
    width=W, height=H, autosize=False,
    margin=dict(l=0, r=0, t=0, b=0),
    paper_bgcolor="white", plot_bgcolor="white",
    showlegend=True,
    legend=dict(orientation="h", x=543 / W, xanchor="center", y=1 - 4 / H, yanchor="top",
                bgcolor="white", bordercolor="#9a9a9a", borderwidth=1, itemwidth=30,
                font=dict(family=SANS, size=16, color="black"), traceorder="normal"),
    annotations=annotations,
    **layout)

fig.write_html("out.html")
